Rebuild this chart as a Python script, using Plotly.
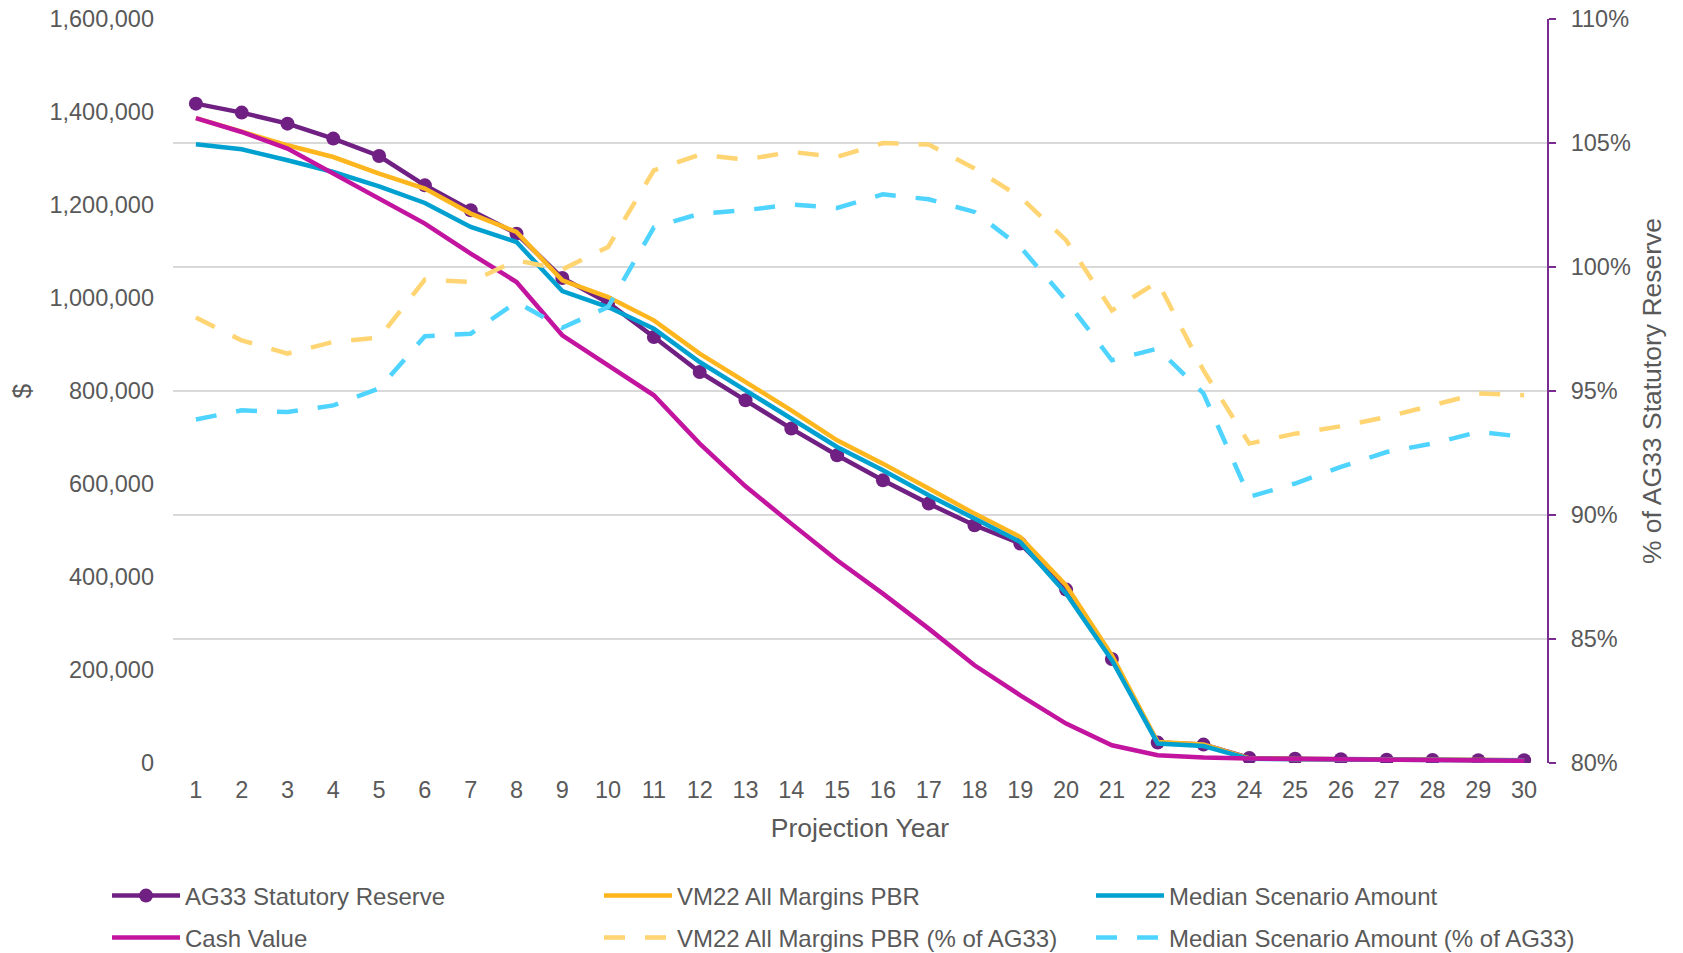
import plotly.graph_objects as go

years = list(range(1, 31))
year_labels = [str(y) for y in years]

ag33_reserve = [1418000, 1398700, 1375000, 1342800, 1305400, 1242300, 1188600, 1138400, 1043000, 990000,
                916100, 840800, 780000, 719100, 661700, 607900, 557800, 511200, 471800, 372900,
                223700, 43900, 39600, 10800, 9000, 8000, 7000, 6500, 6000, 5800]
vm22_pbr = [1387000, 1357000, 1328400, 1303200, 1267500, 1235200, 1181500, 1141900, 1038000, 1002100,
            952000, 880400, 819300, 758500, 694000, 643800, 590100, 536300, 486000, 382100,
            231600, 45000, 40000, 10000, 8800, 7800, 6900, 6400, 5900, 5700]
median_amt = [1330500, 1319700, 1296100, 1271000, 1240200, 1204300, 1152700, 1120400, 1015000, 980600,
              934200, 862300, 801500, 740600, 679600, 629400, 575700, 525600, 475300, 364300,
              220900, 41700, 36600, 9000, 8500, 7600, 6800, 6300, 5800, 5600]
cash_value = [1387000, 1357000, 1321300, 1267500, 1213700, 1160000, 1095500, 1034400, 919800, 855300,
              790700, 687000, 595000, 514800, 435900, 364300, 289000, 210100, 145600, 84700,
              38100, 16600, 11600, 9500, 8500, 7500, 6500, 6000, 5500, 5000]
vm22_pct = [97.96, 97.04, 96.51, 96.98, 97.15, 99.49, 99.40, 100.27, 99.90, 100.81,
            103.90, 104.53, 104.33, 104.64, 104.44, 105.00, 104.94, 103.97, 102.82, 101.08,
            98.25, 99.40, 95.83, 92.88, 93.28, 93.58, 93.95, 94.42, 94.90, 94.83]
median_pct = [93.85, 94.22, 94.15, 94.42, 95.10, 97.21, 97.31, 98.59, 97.55, 98.39,
              101.60, 102.15, 102.29, 102.52, 102.38, 102.93, 102.73, 102.22, 100.81, 98.66,
              96.24, 96.71, 94.90, 90.73, 91.27, 91.94, 92.54, 92.88, 93.35, 93.15]

left_ticks = [0, 200000, 400000, 600000, 800000, 1000000, 1200000, 1400000, 1600000]
right_ticks = [80, 85, 90, 95, 100, 105, 110]
right_labels = [f"{v}%" for v in right_ticks]

FONT = "Liberation Sans, Arial, sans-serif"
GREY = "#595959"
PURPLE_AX = "#7B2C91"
W, H = 1683, 953

fig = go.Figure()
fig.add_trace(go.Scatter(x=years, y=ag33_reserve, name="AG33 Statutory Reserve", mode="lines+markers",
                         line=dict(color="#702082", width=4.5),
                         marker=dict(color="#702082", size=14, line=dict(width=0)), legend="legend"))
fig.add_trace(go.Scatter(x=years, y=vm22_pbr, name="VM22 All Margins PBR", mode="lines",
                         line=dict(color="#FDB61E", width=4.5), legend="legend2"))
fig.add_trace(go.Scatter(x=years, y=median_amt, name="Median Scenario Amount", mode="lines",
                         line=dict(color="#00A1D0", width=4.5), legend="legend3"))
fig.add_trace(go.Scatter(x=years, y=cash_value, name="Cash Value", mode="lines",
                         line=dict(color="#C2149F", width=4.5), legend="legend4"))
fig.add_trace(go.Scatter(x=years, y=vm22_pct, name="VM22 All Margins PBR (% of AG33)", mode="lines",
                         line=dict(color="#FFD472", width=4.5, dash="21px,20px"), yaxis="y2", legend="legend5"))
fig.add_trace(go.Scatter(x=years, y=median_pct, name="Median Scenario Amount (% of AG33)", mode="lines",
                         line=dict(color="#4FD3FF", width=4.5, dash="21px,20px"), yaxis="y2", legend="legend6"))


def leg(xpx, ypx):
    return dict(orientation="h", xref="container", yref="container", x=xpx / W, xanchor="left",
                y=1 - ypx / H, yanchor="middle", font=dict(family=FONT, size=24, color=GREY),
                itemwidth=68, bgcolor="rgba(0,0,0,0)", borderwidth=0)


col_x = [107, 599, 1091]
row_y = [896, 938]

fig.update_layout(
    width=W, height=H,
    margin=dict(l=173, r=136, t=19, b=190, autoexpand=False),
    paper_bgcolor="white", plot_bgcolor="white",
    font=dict(family=FONT, color=GREY),
    showlegend=True,
    legend=leg(col_x[0], row_y[0]),
    legend2=leg(col_x[1], row_y[0]),
    legend3=leg(col_x[2], row_y[0]),
    legend4=leg(col_x[0], row_y[1]),
    legend5=leg(col_x[1], row_y[1]),
    legend6=leg(col_x[2], row_y[1]),
    xaxis=dict(range=[0.5, 30.5], tickmode="array", tickvals=years, ticktext=year_labels,
               showgrid=False, zeroline=False, showline=False, ticks="",
               tickfont=dict(family=FONT, size=23.5, color=GREY), ticklabelstandoff=10,
               title=dict(text="Projection Year", font=dict(family=FONT, size=26.5, color=GREY), standoff=16)),
    yaxis=dict(range=[0, 1600000], tickmode="array", tickvals=left_ticks, tickformat=",",
               showgrid=False, zeroline=False, showline=False, ticks="",
               tickfont=dict(family=FONT, size=23.5, color=GREY), ticklabelstandoff=18,
               title=dict(text="$", font=dict(family=FONT, size=26.5, color=GREY), standoff=10)),
    yaxis2=dict(range=[80, 110], tickmode="array", tickvals=right_ticks, ticktext=right_labels,
                overlaying="y", side="right", anchor="x",
                showgrid=True, gridcolor="#D9D9D9", gridwidth=1.5, zeroline=False,
                showline=True, linecolor=PURPLE_AX, linewidth=2,
                ticks="outside", ticklen=7, tickwidth=2, tickcolor=PURPLE_AX,
                tickfont=dict(family=FONT, size=23.5, color=GREY), ticklabelstandoff=10,
                title=dict(text="% of AG33 Statutory Reserve", font=dict(family=FONT, size=26.5, color=GREY), standoff=13)),
    yaxis3=dict(range=[80, 110], tickmode="array", tickvals=right_ticks, ticktext=[""] * len(right_ticks),
                overlaying="y", side="right", anchor="x", showgrid=False, zeroline=False, showline=False,
                ticks="inside", ticklen=7, tickwidth=2, tickcolor=PURPLE_AX),
)

fig.write_html("out.html")
